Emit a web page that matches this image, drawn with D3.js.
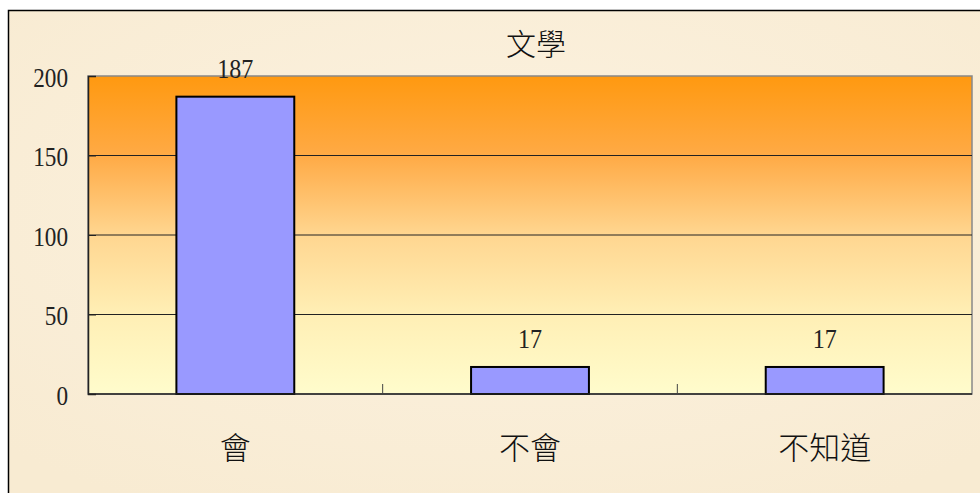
<!DOCTYPE html>
<html><head><meta charset="utf-8">
<script src="https://cdn.jsdelivr.net/npm/d3@7/dist/d3.min.js"></script>
<style>html,body{margin:0;padding:0;background:#fff;}</style>
</head><body>
<svg id="c" width="980" height="493"></svg>
<script>
const categories = ["會", "不會", "不知道"];
const values = [187, 17, 17];
const yTicks = [0, 50, 100, 150, 200];
const title = "文學";

const svg = d3.select("#c");
const W = 980, H = 493;
const m = {l: 88, r: 8, t: 76, b: 99};
const pw = W - m.l - m.r, ph = H - m.t - m.b;
const SX = 0.86; // horizontal condensing of Latin digits

const defs = svg.append("defs");
const pg = defs.append("linearGradient").attr("id","pg").attr("x1",0).attr("y1",0).attr("x2",0).attr("y2",1);
pg.append("stop").attr("offset","0%").attr("stop-color","#FF9910");
pg.append("stop").attr("offset","25%").attr("stop-color","#FFAA45");
pg.append("stop").attr("offset","50%").attr("stop-color","#FFD690");
pg.append("stop").attr("offset","75%").attr("stop-color","#FFEFB5");
pg.append("stop").attr("offset","100%").attr("stop-color","#FFFCCC");

const bg = defs.append("radialGradient").attr("id","bg").attr("cx","50%").attr("cy","40%").attr("r","70%");
bg.append("stop").attr("offset","0%").attr("stop-color","#FCF2E0");
bg.append("stop").attr("offset","100%").attr("stop-color","#F8EBD2");

// outer chart area
svg.append("rect").attr("x",8.5).attr("y",10.5).attr("width",W).attr("height",H)
  .attr("fill","url(#bg)").attr("stroke","#000").attr("stroke-width",1.5);

const x = d3.scaleBand().domain(categories).range([m.l, m.l+pw]).paddingInner(0.6).paddingOuter(0.3);
const xb = d3.scaleBand().domain(categories).range([m.l, m.l+pw]);
const y = d3.scaleLinear().domain([0,200]).range([m.t+ph, m.t]);

// plot area
svg.append("rect").attr("x",m.l).attr("y",m.t).attr("width",pw).attr("height",ph)
  .attr("fill","url(#pg)").attr("stroke","#888").attr("stroke-width",1.5);

// gridlines
svg.append("g").selectAll("line").data(yTicks.filter(d=>d>0 && d<200)).join("line")
  .attr("x1",m.l).attr("x2",m.l+pw).attr("y1",d=>y(d)).attr("y2",d=>y(d))
  .attr("stroke","#222").attr("stroke-width",1);

// bars
svg.append("g").selectAll("rect").data(values).join("rect")
  .attr("x",(d,i)=>x(categories[i])).attr("width",x.bandwidth())
  .attr("y",d=>y(d)).attr("height",d=>y(0)-y(d))
  .attr("fill","#9999FF").attr("stroke","#000").attr("stroke-width",2);

// value labels
svg.append("g").selectAll("text").data(values).join("text")
  .attr("transform",(d,i)=>`translate(${x(categories[i])+x.bandwidth()/2},${y(d)-19}) scale(${SX},1)`)
  .attr("text-anchor","middle").attr("font-family","Liberation Serif, serif").attr("font-size",28)
  .attr("fill","#222").text(d=>d);

// y axis
const ya = d3.axisLeft(y).tickValues(yTicks).tickSize(-8).tickFormat(()=>"");
const yg = svg.append("g").attr("transform",`translate(${m.l},0)`).call(ya);
yg.select(".domain").attr("stroke","#222").attr("stroke-width",1.5);
yg.selectAll(".tick line").attr("stroke","#222");
yg.selectAll(".tick").append("text")
  .attr("transform",`translate(-20,0) scale(${SX},1)`)
  .attr("text-anchor","end").attr("dy","0.38em")
  .attr("font-family","Liberation Serif, serif").attr("font-size",27).attr("fill","#222")
  .text(d=>d);

// x axis
const xa = svg.append("g");
xa.append("line").attr("x1",m.l).attr("x2",m.l+pw).attr("y1",y(0)).attr("y2",y(0)).attr("stroke","#222").attr("stroke-width",1.5);
xa.selectAll(".tk").data(categories.slice(1)).join("line").attr("class","tk")
  .attr("x1",d=>xb(d)).attr("x2",d=>xb(d)).attr("y1",y(0)).attr("y2",y(0)-10)
  .attr("stroke","#444").attr("stroke-width",1);
xa.selectAll("text").data(categories).join("text")
  .attr("x",d=>xb(d)+xb.bandwidth()/2).attr("y",459)
  .attr("text-anchor","middle").attr("font-family","Noto Sans CJK TC, sans-serif").attr("font-size",31)
  .attr("font-weight",300).attr("fill","#111").text(d=>d);

// title
svg.append("text").attr("x",536).attr("y",55).attr("text-anchor","middle")
  .attr("font-family","Noto Sans CJK TC, sans-serif").attr("font-size",30).attr("font-weight",300)
  .attr("fill","#111").text(title);
</script>
</body></html>
